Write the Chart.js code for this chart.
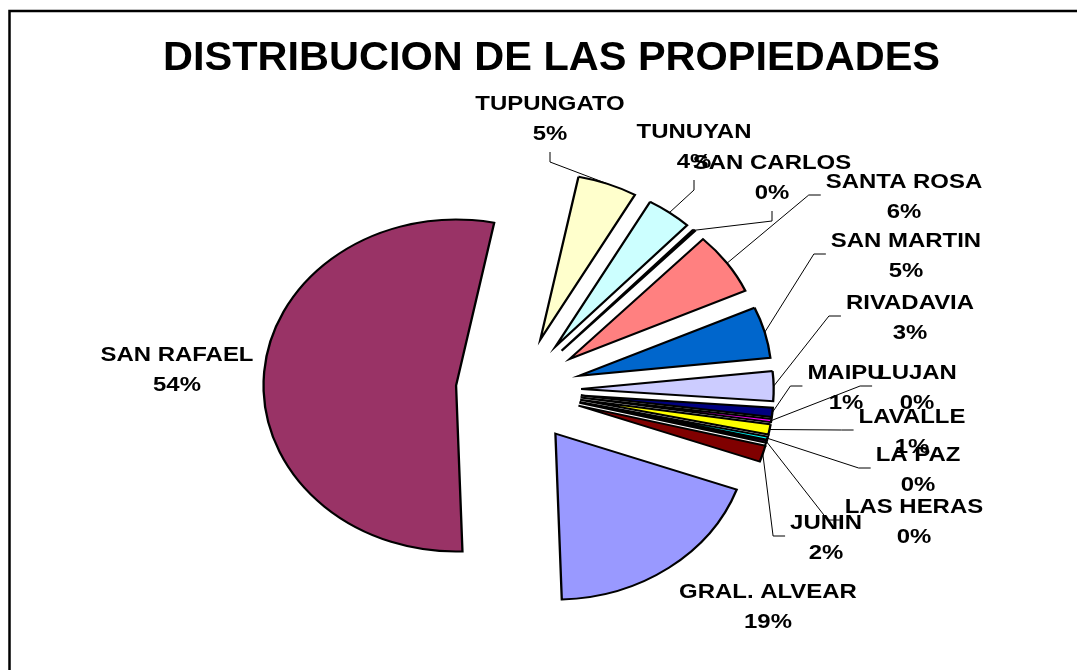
<!DOCTYPE html>
<html>
<head>
<meta charset="utf-8">
<script src="https://cdn.jsdelivr.net/npm/chart.js@4.4.1/dist/chart.umd.min.js"></script>
<style>
    html, body { margin: 0; padding: 0; background: #fff; }
    #wrap { width: 1077px; height: 670px; position: relative; }
</style>
</head>
<body>
<div id="wrap"><canvas id="propChart"></canvas></div>
<script>
const departments = ['GRAL. ALVEAR', 'SAN RAFAEL', 'TUPUNGATO', 'TUNUYAN', 'SAN CARLOS', 'SANTA ROSA',
    'SAN MARTIN', 'RIVADAVIA', 'MAIPU', 'LUJAN', 'LAVALLE', 'LA PAZ', 'LAS HERAS', 'JUNIN'];
const shares = [19.0, 53.7, 5.0, 3.8, 0.2, 6.1, 5.0, 2.9, 0.9, 0.3, 1.0, 0.3, 0.2, 1.6];
const sliceColors = ['#9999FF', '#993366', '#FFFFCC', '#CCFFFF', '#660066', '#FF8080', '#0066CC',
    '#CCCCFF', '#000080', '#FF00FF', '#FFFF00', '#00FFFF', '#800080', '#800000'];

const chartTitle = 'DISTRIBUCION DE LAS PROPIEDADES';

// layout: pie is drawn a bit wider than tall, every slice pulled out
const STRETCH_X = 1.16;
const EXPLODE = 54;
const FONT = '"Liberation Sans", Arial, sans-serif';

// label block centres and the side their leader line joins
const labelSpots = [
    [768, 605, null],
    [177, 368, null],
    [550, 117, 'bottom'],
    [694, 145, 'bottom'],
    [772, 176, 'bottom'],
    [904, 195, 'left'],
    [906, 254, 'left'],
    [910, 316, 'left'],
    [846, 386, 'left'],
    [917, 386, 'left'],
    [912, 430, 'left'],
    [918, 468, 'left'],
    [914, 520, 'left'],
    [826, 536, 'left']
];

function stretchedText(ctx, text, x, y, sx) {
    ctx.save();
    ctx.translate(x, y);
    ctx.scale(sx, 1);
    ctx.fillText(text, 0, 0);
    ctx.restore();
}

function slicePoint(arc) {
    const mid = (arc.startAngle + arc.endAngle) / 2;
    const r = arc.outerRadius + EXPLODE;
    return [arc.x + Math.cos(mid) * r * STRETCH_X, arc.y + Math.sin(mid) * r];
}

const explodePlugin = {
    id: 'explode',
    beforeDatasetDraw(chart, args) {
        const ctx = chart.ctx;
        args.meta.data.forEach(arc => {
            const mid = (arc.startAngle + arc.endAngle) / 2;
            ctx.save();
            ctx.translate(arc.x, arc.y);
            ctx.scale(STRETCH_X, 1);
            ctx.translate(-arc.x, -arc.y);
            ctx.translate(Math.cos(mid) * EXPLODE, Math.sin(mid) * EXPLODE);
            arc.draw(ctx, chart.chartArea);
            ctx.restore();
        });
        return false;
    }
};

const textPlugin = {
    id: 'texts',
    afterDraw(chart) {
        const ctx = chart.ctx;
        const arcs = chart.getDatasetMeta(0).data;
        const total = shares.reduce((a, b) => a + b, 0);

        // frame
        ctx.save();
        ctx.strokeStyle = '#000';
        ctx.lineWidth = 2.5;
        ctx.beginPath();
        ctx.moveTo(9.5, 670);
        ctx.lineTo(9.5, 11);
        ctx.lineTo(1077, 11);
        ctx.stroke();

        // title
        ctx.fillStyle = '#000';
        ctx.textAlign = 'center';
        ctx.textBaseline = 'alphabetic';
        ctx.font = 'bold 40px ' + FONT;
        const tw = ctx.measureText(chartTitle).width;
        stretchedText(ctx, chartTitle, 551.5, 70, 777 / tw);

        ctx.font = 'bold 21px ' + FONT;
        const sx = 1.14;
        departments.forEach((name, i) => {
            const [lx, ly, side] = labelSpots[i];
            const pct = Math.round(shares[i] / total * 100) + '%';
            const w = Math.max(ctx.measureText(name).width, ctx.measureText(pct).width) * sx;

            if (side) {
                const [px, py] = slicePoint(arcs[i]);
                ctx.strokeStyle = '#000';
                ctx.lineWidth = 1;
                ctx.beginPath();
                ctx.moveTo(px, py);
                if (side === 'bottom') {
                    ctx.lineTo(lx, ly + 45);
                    ctx.lineTo(lx, ly + 35);
                } else {
                    const end = lx - w / 2 - 5;
                    ctx.lineTo(end - 12, ly);
                    ctx.lineTo(end, ly);
                }
                ctx.stroke();
            }

            stretchedText(ctx, name, lx, ly - 15 + 7.5, sx);
            stretchedText(ctx, pct, lx, ly + 15 + 7.5, sx);
        });
        ctx.restore();
    }
};

new Chart(document.getElementById('propChart'), {
    type: 'pie',
    data: {
        labels: departments,
        datasets: [{
            data: shares,
            backgroundColor: sliceColors,
            borderColor: '#000',
            borderWidth: 2,
            borderJoinStyle: 'miter',
            radius: 166
        }]
    },
    options: {
        responsive: true,
        maintainAspectRatio: false,
        animation: false,
        events: [],
        rotation: 109.7,
        layout: {
            padding: { left: 0, right: 40, top: 110, bottom: 0 }
        },
        plugins: {
            legend: { display: false },
            title: { display: false },
            tooltip: { enabled: false }
        }
    },
    plugins: [explodePlugin, textPlugin]
});
</script>
</body>
</html>
